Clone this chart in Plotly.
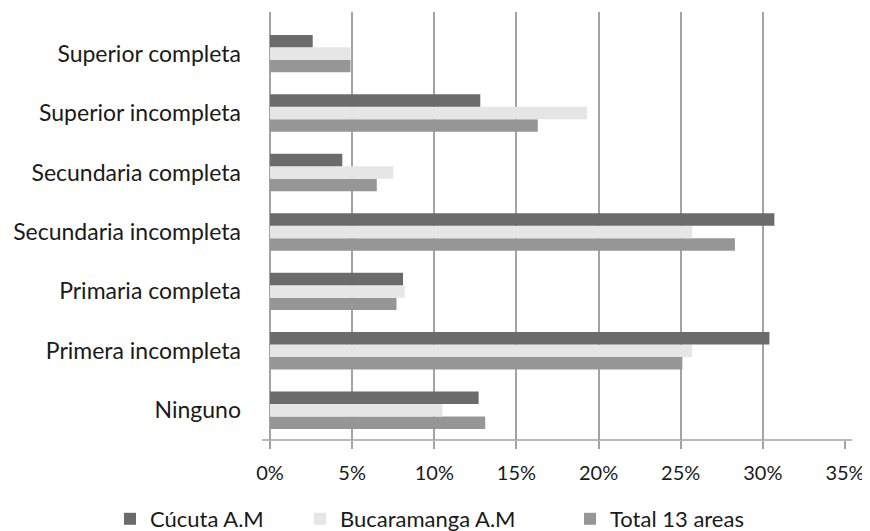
import plotly.graph_objects as go

# Categories listed bottom-to-top as they appear on the chart
categories = ["Ninguno", "Primera incompleta", "Primaria completa",
              "Secundaria incompleta", "Secundaria completa",
              "Superior incompleta", "Superior completa"]
cucuta = [0.127, 0.304, 0.081, 0.307, 0.044, 0.128, 0.026]
bucaramanga = [0.105, 0.257, 0.082, 0.257, 0.075, 0.193, 0.049]
total13 = [0.131, 0.251, 0.077, 0.283, 0.065, 0.163, 0.049]
tick_vals = [0, 0.05, 0.10, 0.15, 0.20, 0.25, 0.30, 0.35]
tick_text = ["0%", "5%", "10%", "15%", "20%", "25%", "30%", "35%"]

FONT = "Lato"
TXT = "#1a1a1a"
GRID = "#a3a3a3"

# page has an 8px body margin; figure is sized to fill the rest of the window
W, H, OFF = 862, 523, 8

fig = go.Figure()
fig.add_trace(go.Bar(y=categories, x=total13, orientation="h", name="Total 13 areas",
                     marker=dict(color="#969696", line=dict(width=0)), legend="legend3"))
fig.add_trace(go.Bar(y=categories, x=bucaramanga, orientation="h", name="Bucaramanga A.M",
                     marker=dict(color="#e6e6e6", line=dict(width=0)), legend="legend2"))
fig.add_trace(go.Bar(y=categories, x=cucuta, orientation="h", name="Cúcuta A.M",
                     marker=dict(color="#6b6b6b", line=dict(width=0)), legend="legend"))

leg_common = dict(orientation="h", xref="container", yref="container",
                  yanchor="middle", y=(H - (519 - OFF)) / H, xanchor="left",
                  font=dict(family=FONT, size=22, color=TXT),
                  bgcolor="rgba(0,0,0,0)", borderwidth=0, itemwidth=30)

def lx(px):
    return (px - OFF - 15) / W

fig.update_layout(
    width=W, height=H,
    margin=dict(l=270 - OFF, r=870 - 845, t=12 - OFF, b=531 - 440, autoexpand=False),
    paper_bgcolor="white", plot_bgcolor="white",
    barmode="group", bargap=0.37, bargroupgap=0,
    font=dict(family=FONT, size=20, color=TXT),
    showlegend=True,
    legend=dict(leg_common, x=lx(125)),
    legend2=dict(leg_common, x=lx(315)),
    legend3=dict(leg_common, x=lx(585)),
    xaxis=dict(range=[0, 0.35], tickvals=tick_vals, ticktext=tick_text,
               showgrid=True, gridcolor=GRID, gridwidth=1.5,
               zeroline=True, zerolinecolor=GRID, zerolinewidth=1.5,
               showline=False, ticks="outside", ticklen=8, tickcolor=GRID, tickwidth=1.5,
               ticklabelstandoff=7, tickfont=dict(family=FONT, size=20, color=TXT),
               automargin=False, fixedrange=True),
    yaxis=dict(type="category", categoryorder="array", categoryarray=categories,
               range=[-0.5, 6.7], showgrid=False, zeroline=False, showline=False,
               ticks="", ticklabelstandoff=28, automargin=False,
               tickfont=dict(family=FONT, size=23, color=TXT), fixedrange=True),
)

# x-axis baseline extending slightly beyond the plot area
fig.add_shape(type="line", xref="paper", yref="paper", x0=-0.014, x1=1.012, y0=0, y1=0,
              line=dict(color=GRID, width=1.5))

fig.write_html("out.html")
